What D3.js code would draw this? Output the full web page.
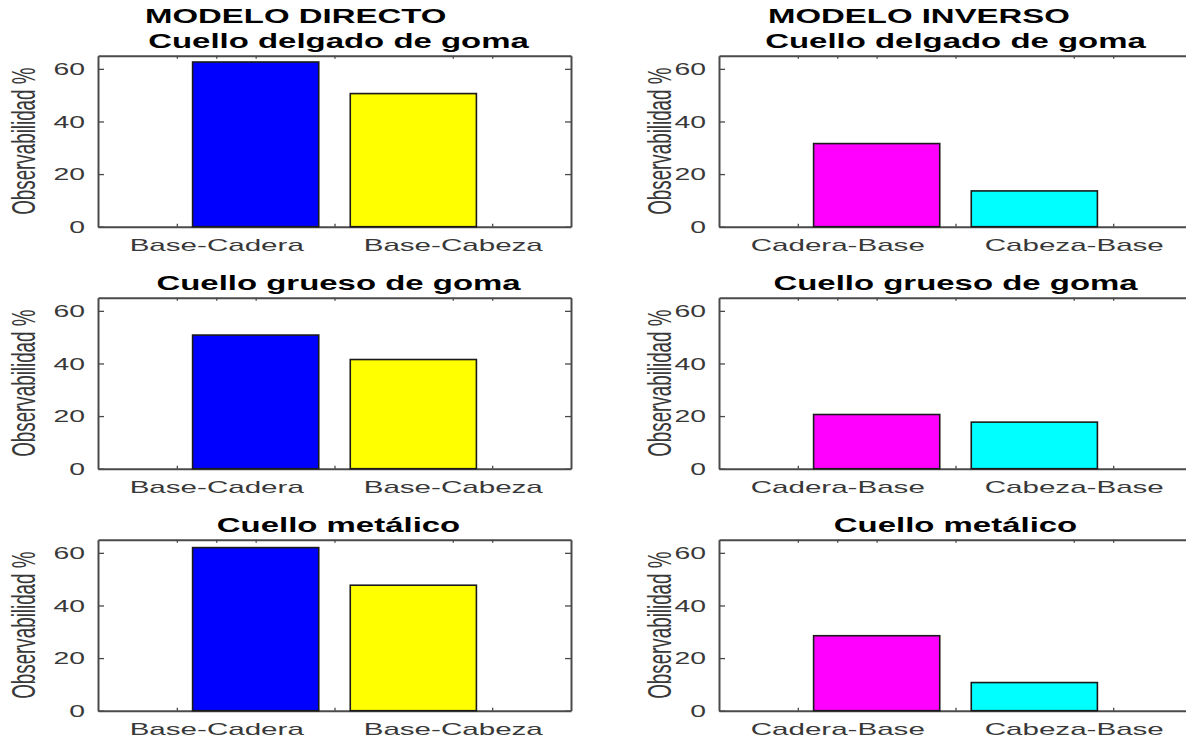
<!DOCTYPE html>
<html>
<head>
<meta charset="utf-8">
<script src="https://cdn.jsdelivr.net/npm/d3@7"></script>
<style>
    html, body { margin: 0; padding: 0; background: #fff; }
    svg { display: block; font-family: "Liberation Sans", Arial, Helvetica, sans-serif; }
</style>
</head>
<body>
<div id="chart"></div>
<script>
// values
const columnTitles = ['MODELO DIRECTO', 'MODELO INVERSO'];
const rowTitles = ['Cuello delgado de goma', 'Cuello grueso de goma', 'Cuello metálico'];
const directLabels = ['Base-Cadera', 'Base-Cabeza'];
const inverseLabels = ['Cadera-Base', 'Cabeza-Base'];
const directValues = [
    [62.6, 50.6],
    [50.8, 41.5],
    [62.0, 47.7],
];
const inverseValues = [
    [31.6, 13.6],
    [20.6, 17.7],
    [28.5, 10.7],
];
const barPositions = [1, 2];
const labelPositions = [0.75, 2.25];
const xTickValues = [0.5, 0.75, 1, 1.5, 2.25, 2.5];
const yTickValues = [0, 20, 40, 60];
const yLabel = 'Observabilidad %';

const directColors = ['#0000ff', '#ffff00'];
const inverseColors = ['#ff00ff', '#00ffff'];

// the original picture is stretched sideways, so text is too
const SX = 1.74;
const TITLE_SX = 1.69;
const AXIS_COLOR = '#4a4a4a';
const TEXT_COLOR = '#383838';

const columns = [
    { x0: 98, x1: 571, labels: directLabels, values: directValues, colors: directColors, titleX: 145, shift: 4 },
    { x0: 719, x1: 1192, labels: inverseLabels, values: inverseValues, colors: inverseColors, titleX: 768, shift: 0 },
];
const rowTop = i => 55.7 + 242 * i;
const plotHeight = 171;

const svg = d3.select('#chart').append('svg')
    .attr('width', 1186)
    .attr('height', 740);

svg.append('rect')
    .attr('width', 1186)
    .attr('height', 740)
    .attr('fill', '#fff');

function stretchedText(g, { x, y, text, size, weight = 'normal', anchor = 'middle', rotate = 0, fill = TEXT_COLOR, sx = SX }) {
    return g.append('text')
        .attr('transform', `translate(${x},${y}) scale(${sx},1)` + (rotate ? ` rotate(${rotate})` : ''))
        .attr('text-anchor', anchor)
        .attr('font-size', size)
        .attr('font-weight', weight)
        .attr('fill', fill)
        .text(text);
}

function styleAxis(g) {
    g.select('.domain')
        .attr('stroke', AXIS_COLOR)
        .attr('stroke-width', 2);
    g.selectAll('.tick line')
        .attr('stroke', AXIS_COLOR)
        .attr('stroke-width', 1.3);
    g.selectAll('.tick text')
        .attr('fill', TEXT_COLOR)
        .attr('font-family', null);
    g.attr('font-family', null);
}

columns.forEach((col, c) => {
    // column heading
    stretchedText(svg, {
        x: col.titleX, y: 23, text: columnTitles[c],
        size: 19.5, weight: 'bold', anchor: 'start', fill: '#000', sx: TITLE_SX,
    });

    rowTitles.forEach((title, r) => {
        const top = rowTop(r);
        const bottom = top + plotHeight;

        const xScale = d3.scaleLinear()
            .domain([0, 3])
            .range([col.x0, col.x1]);
        const yScale = d3.scaleLinear()
            .domain([0, 65])
            .range([bottom, top]);

        const panel = svg.append('g');

        stretchedText(panel, {
            x: (col.x0 + col.x1) / 2 + col.shift, y: top - 8, text: title,
            size: 19.5, weight: 'bold', fill: '#000', sx: TITLE_SX,
        });

        const bars = col.values[r].map((v, i) => ({ pos: barPositions[i], value: v, color: col.colors[i] }));

        // top and right box lines with inward ticks
        panel.append('g')
            .attr('transform', `translate(0,${top})`)
            .call(d3.axisTop(xScale).tickValues(xTickValues).tickSizeInner(-3).tickSizeOuter(0).tickFormat(''))
            .call(styleAxis);
        panel.append('g')
            .attr('transform', `translate(${col.x1},0)`)
            .call(d3.axisRight(yScale).tickValues(yTickValues).tickSizeInner(-6).tickSizeOuter(0).tickFormat(''))
            .call(styleAxis);

        // left axis with numbers
        const yAxisG = panel.append('g')
            .attr('transform', `translate(${col.x0},0)`)
            .call(d3.axisLeft(yScale).tickValues(yTickValues).tickSizeInner(-6).tickSizeOuter(0).tickPadding(13 / SX))
            .call(styleAxis);
        yAxisG.selectAll('.tick text')
            .attr('font-size', 16.3)
            .attr('dy', '0.36em')
            .attr('transform', `scale(${SX},1)`);

        // bottom ticks, mostly hidden by the bars
        panel.append('g')
            .attr('transform', `translate(0,${bottom})`)
            .call(d3.axisBottom(xScale).tickValues(xTickValues).tickSizeInner(-3).tickSizeOuter(0).tickFormat(''))
            .call(styleAxis);

        panel.selectAll('.bar')
            .data(bars)
            .join('rect')
            .attr('class', 'bar')
            .attr('x', d => xScale(d.pos - 0.4))
            .attr('width', d => xScale(d.pos + 0.4) - xScale(d.pos - 0.4))
            .attr('y', d => yScale(d.value))
            .attr('height', d => yScale(0) - yScale(d.value))
            .attr('fill', d => d.color)
            .attr('stroke', '#1a1a1a')
            .attr('stroke-width', 1.6);

        // category labels
        const labelAxisG = panel.append('g')
            .attr('transform', `translate(0,${bottom})`)
            .call(d3.axisBottom(xScale)
                .tickValues(labelPositions)
                .tickSize(0)
                .tickPadding(12.3)
                .tickFormat((d, i) => col.labels[i]));
        labelAxisG.select('.domain').remove();
        labelAxisG.attr('font-family', null);
        labelAxisG.selectAll('.tick text')
            .attr('font-size', 17)
            .attr('fill', TEXT_COLOR)
            .attr('transform', `scale(${SX},1)`);

        // y label
        stretchedText(panel, {
            x: col.x0 - (c === 0 ? 63 : 48), y: (top + bottom) / 2, text: yLabel,
            size: 18.8, rotate: -90,
        });
    });
});
</script>
</body>
</html>
